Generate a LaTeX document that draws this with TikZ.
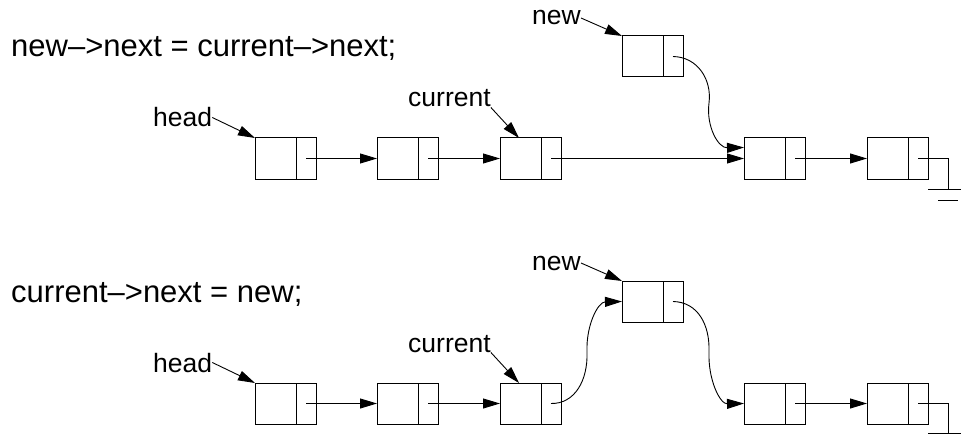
\documentclass[tikz,border=0pt]{standalone}
\usepackage{fontspec}
\setmainfont{Liberation Sans}
\usetikzlibrary{arrows.meta}
\tikzset{
  cell/.style={draw, line width=1pt, minimum width=61pt, minimum height=41pt, inner sep=0pt, outer sep=0pt, anchor=north west},
  ptr/.style={line width=0.9pt, -{Triangle[length=17pt,width=10pt]}},
  wire/.style={line width=0.9pt},
  lbl/.style={font=\fontsize{26.5}{30}\selectfont, inner sep=0pt, anchor=base west},
  stmt/.style={font=\fontsize{31}{36}\selectfont, inner sep=0pt, anchor=base west}
}
\newcommand{\listbox}[3]{%
  \node[cell] (#1) at (#2,#3) {};
  \draw[line width=1pt] ([xshift=41pt]#1.north west) -- ([xshift=41pt]#1.south west);
  \coordinate (#1p) at ([xshift=51pt]#1.west);
}
\begin{document}
\begin{tikzpicture}[x=1pt,y=-1pt]
\useasboundingbox (0,0) rectangle (961,441);
% ---------- top panel ----------
\node[stmt] (s1) at (11,57) {new–>next = current–>next;};
\listbox{a1}{255}{138}
\listbox{a2}{377}{138}
\listbox{a3}{500}{138}
\listbox{an}{622}{36}
\listbox{a4}{744}{138}
\listbox{a5}{867}{138}
\node[lbl] (ah) at (153,127) {head};
\node[lbl] (ac) at (408,107) {current};
\node[lbl] (anl) at (532,25) {new};
\draw[ptr] (ah.east) -- (a1.north west);
\draw[ptr] (ac.south east) -- ([xshift=19pt]a3.north west);
\draw[ptr] (anl.east) -- (an.north west);
\draw[ptr] (a1p) -- (a2.west);
\draw[ptr] (a2p) -- (a3.west);
\draw[ptr] (a3p) -- (a4.west);
\draw[ptr] (a4p) -- (a5.west);
\coordinate (a4in) at ([yshift=11pt]a4.west);
\draw[ptr] (anp) .. controls (698,57) and (712,80) .. (709,103) .. controls (706,126) and (718,148) .. (a4in);
\coordinate (ag) at (948,189);
\draw[wire] (a5p) -| (ag);
\draw[wire] (928,189) -- (961,189);
\draw[wire] (938,200) -- (958,200);
% ---------- bottom panel ----------
\node[stmt] (s2) at (11,302) {current–>next = new;};
\listbox{b1}{255}{383}
\listbox{b2}{377}{383}
\listbox{b3}{500}{383}
\listbox{bn}{622}{281}
\listbox{b4}{744}{383}
\listbox{b5}{867}{383}
\node[lbl] (bh) at (153,372) {head};
\node[lbl] (bc) at (408,352) {current};
\node[lbl] (bnl) at (532,270) {new};
\draw[ptr] (bh.east) -- (b1.north west);
\draw[ptr] (bc.south east) -- ([xshift=19pt]b3.north west);
\draw[ptr] (bnl.east) -- (bn.north west);
\draw[ptr] (b1p) -- (b2.west);
\draw[ptr] (b2p) -- (b3.west);
\draw[ptr] (b3p) .. controls (575,404) and (588,380) .. (587,352) .. controls (586,325) and (598,302) .. (bn.west);
\draw[ptr] (bnp) .. controls (698,302) and (710,325) .. (709,352) .. controls (708,380) and (720,404) .. (b4.west);
\draw[ptr] (b4p) -- (b5.west);
\coordinate (bg) at (948,433);
\draw[wire] (b5p) -| (bg);
\draw[wire] (928,433) -- (961,433);
\end{tikzpicture}
\end{document}
